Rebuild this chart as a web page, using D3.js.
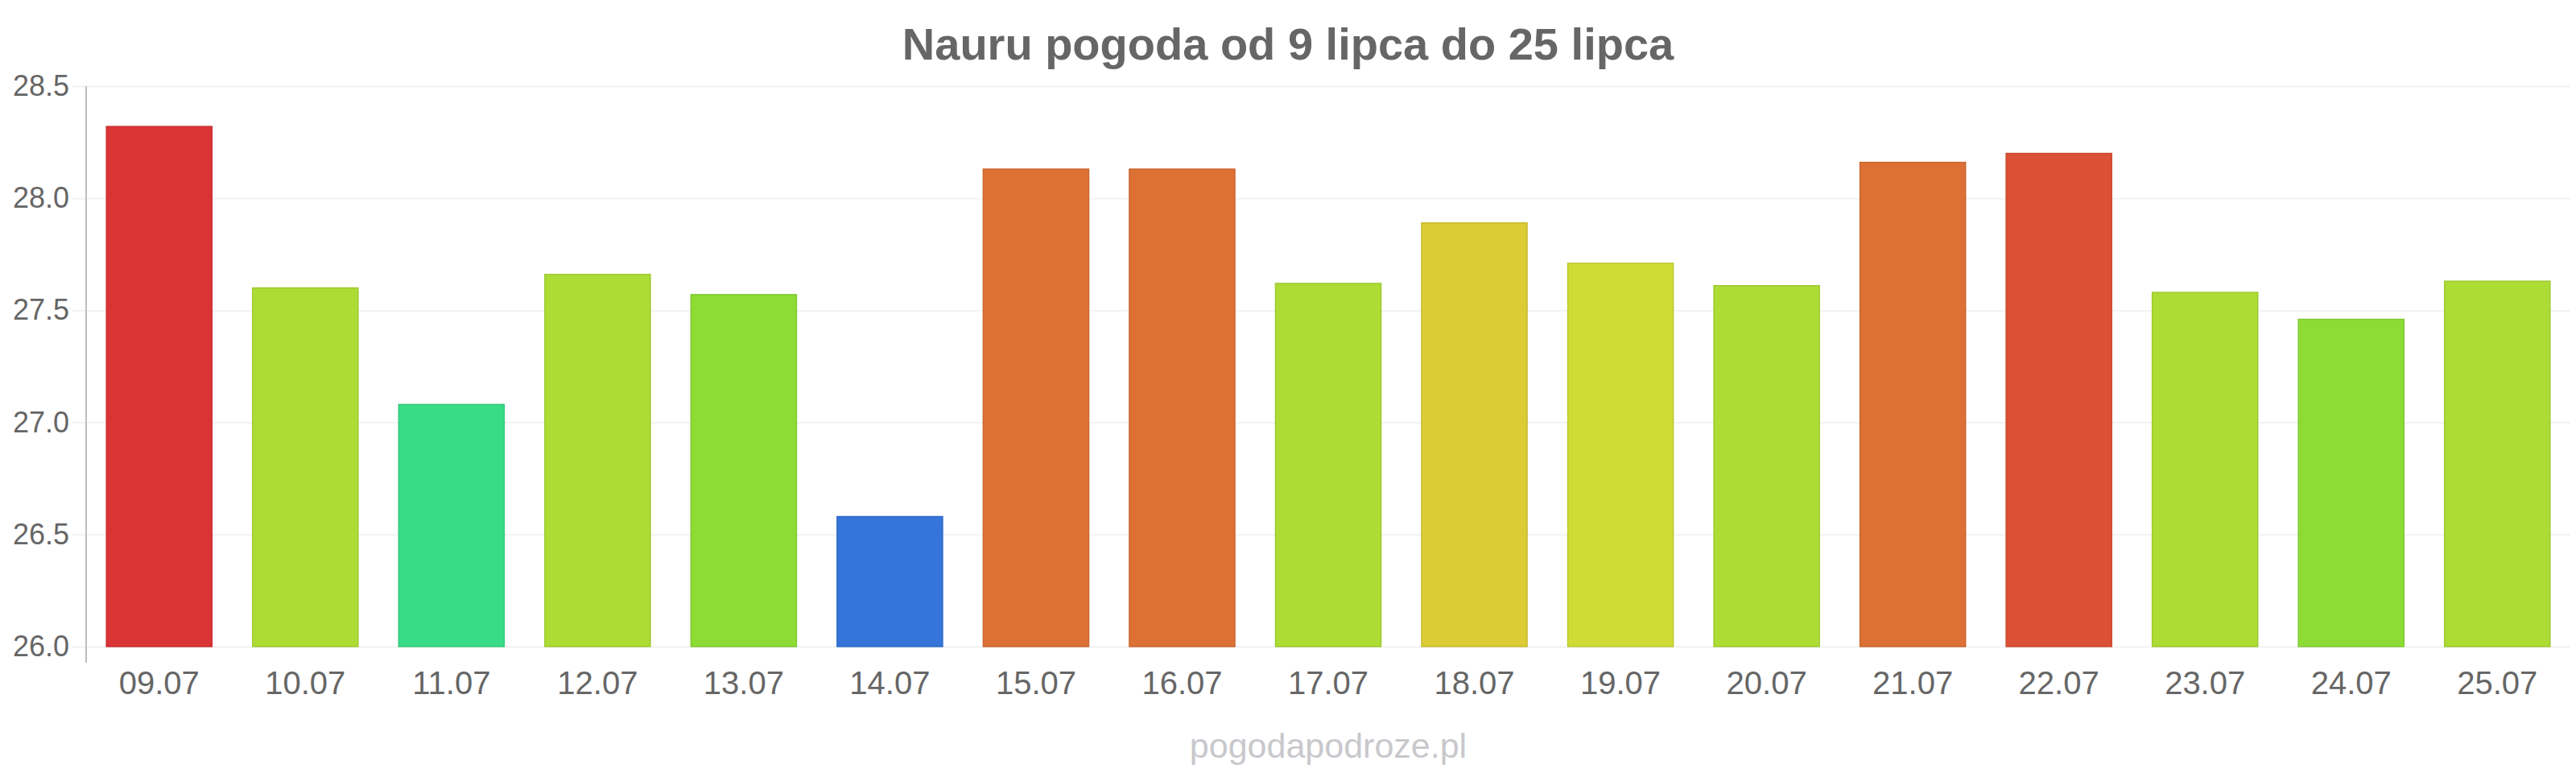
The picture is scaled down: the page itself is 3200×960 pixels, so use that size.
<!DOCTYPE html>
<html>
<head>
<meta charset="utf-8">
<script src="https://cdn.jsdelivr.net/npm/d3@7"></script>
<style>
  body { margin: 0; background: #fff; }
  svg { display: block; font-family: "Liberation Sans", Arial, sans-serif; }
</style>
</head>
<body>
<script>
var days = ["09.07", "10.07", "11.07", "12.07", "13.07", "14.07", "15.07", "16.07", "17.07",
            "18.07", "19.07", "20.07", "21.07", "22.07", "23.07", "24.07", "25.07"]

var temps = [28.32, 27.60, 27.08, 27.66, 27.57, 26.58, 28.13, 28.13, 27.62,
             27.89, 27.71, 27.61, 28.16, 28.20, 27.58, 27.46, 27.63]

var barColors = ["#da3436", "#addc35", "#38dc87", "#addc35", "#8cdc35", "#3575da", "#dd7035", "#dd7035", "#addc35",
                 "#dbcb35", "#cedc35", "#addc35", "#dd7035", "#dc5035", "#addc35", "#8cdc35", "#addc35"]

var yTicks = [26.0, 26.5, 27.0, 27.5, 28.0, 28.5]

var title = "Nauru pogoda od 9 lipca do 25 lipca"
var credit = "pogodapodroze.pl"

var width = 3200, height = 960
// "top" is taken by window.top, so plot edges get their own names
var plotLeft = 107, plotRight = 3193, plotTop = 107, plotBottom = 803

var svg = d3.select("body")
            .append("svg")
            .attr("width", width)
            .attr("height", height)

var xScale = d3.scaleBand()
               .domain(days)
               .range([plotLeft, plotRight])
               .paddingInner(0.278)
               .paddingOuter(0.139)

var yScale = d3.scaleLinear()
               .domain([26, 28.5])
               .range([plotBottom, plotTop])

// gridlines + y labels
var yAxis = svg.append("g")
               .attr("transform", "translate(90,0)")
               .call(d3.axisLeft(yScale)
                       .tickValues(yTicks)
                       .tickFormat(d3.format(".1f"))
                       .tickSize(-(plotRight - 90))
                       .tickPadding(4))
yAxis.select(".domain").remove()
yAxis.selectAll("line").attr("stroke", "#f2f2f2").attr("stroke-width", 2)
yAxis.selectAll("text")
     .attr("fill", "#666")
     .attr("font-size", 36)
     .attr("font-family", "Liberation Sans, Arial, sans-serif")

// axis line
svg.append("line")
   .attr("x1", plotLeft).attr("x2", plotLeft)
   .attr("y1", plotTop).attr("y2", plotBottom + 20)
   .attr("stroke", "#bdbdbd")
   .attr("stroke-width", 2)

svg.selectAll(".bar")
   .data(temps)
   .enter()
   .append("rect")
   .attr("class", "bar")
   .attr("x", (d, i) => xScale(days[i]))
   .attr("y", d => yScale(d))
   .attr("width", xScale.bandwidth())
   .attr("height", d => yScale(26) - yScale(d))
   .attr("fill", (d, i) => barColors[i])
   .attr("stroke", (d, i) => d3.color(barColors[i]).darker(0.25))
   .attr("stroke-width", 1.5)

var xAxis = svg.append("g")
               .attr("transform", "translate(0," + plotBottom + ")")
               .call(d3.axisBottom(xScale).tickSize(0).tickPadding(31))
xAxis.select(".domain").remove()
xAxis.selectAll("text")
     .attr("fill", "#666")
     .attr("font-size", 40)
     .attr("font-family", "Liberation Sans, Arial, sans-serif")

svg.append("text")
   .attr("x", width / 2)
   .attr("y", 74)
   .attr("text-anchor", "middle")
   .attr("fill", "#666")
   .attr("font-size", 56)
   .attr("font-weight", "bold")
   .text(title)

svg.append("text")
   .attr("x", (plotLeft + plotRight) / 2)
   .attr("y", 941)
   .attr("text-anchor", "middle")
   .attr("fill", "#c8c8cc")
   .attr("font-size", 43)
   .text(credit)
</script>
</body>
</html>
